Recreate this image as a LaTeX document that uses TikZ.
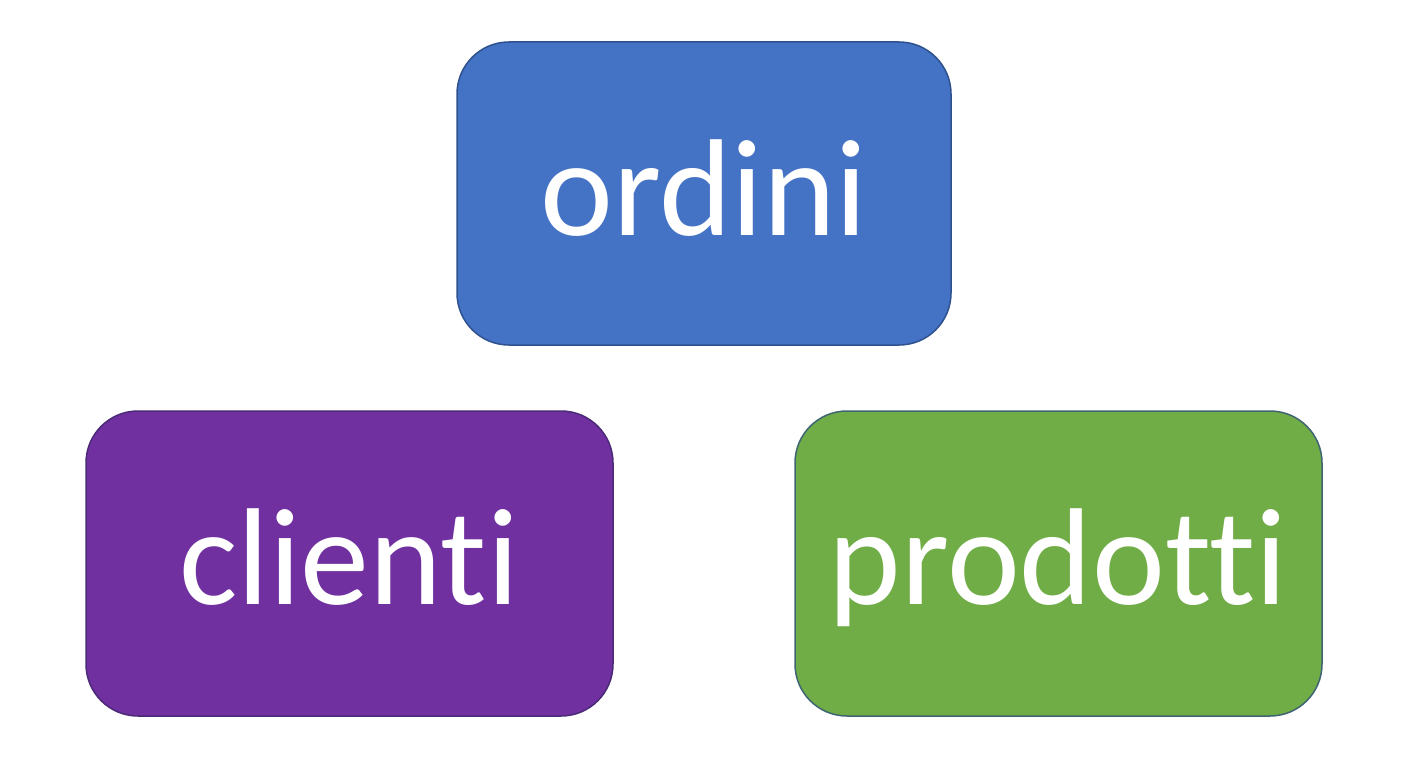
\documentclass[tikz,border=0pt]{standalone}
\usepackage{fontspec}
\setmainfont{Carlito}[RawFeature={-liga;-clig;-dlig}]
\definecolor{cblue}{HTML}{4472C4}
\definecolor{cpurple}{HTML}{7030A0}
\definecolor{cgreen}{HTML}{70AD47}
\definecolor{oblue}{HTML}{2F528F}
\definecolor{opurple}{HTML}{4B2A78}
\definecolor{ogreen}{HTML}{3F6472}
\begin{document}
\begin{tikzpicture}[x=1pt,y=-1pt,
  tbox/.style={rounded corners=52pt,line width=1.5pt},
  lbl/.style={text=white,font=\fontsize{138}{150}\selectfont,inner sep=0pt}]
\useasboundingbox[fill=white] (0,0) rectangle (1408,768);
\draw[tbox,fill=cblue,draw=oblue] (457,42) rectangle (951,345);
\draw[tbox,fill=cpurple,draw=opurple] (86,411) rectangle (613,716);
\draw[tbox,fill=cgreen,draw=ogreen] (795,411) rectangle (1322,716);
\node[lbl,anchor=base] (ordini) at (704,235) {ordini};
\node[lbl,anchor=base] (clienti) at (349,604) {clienti};
\node[lbl,anchor=base] (prodotti) at (1058,604) {prodotti};
\end{tikzpicture}
\end{document}
